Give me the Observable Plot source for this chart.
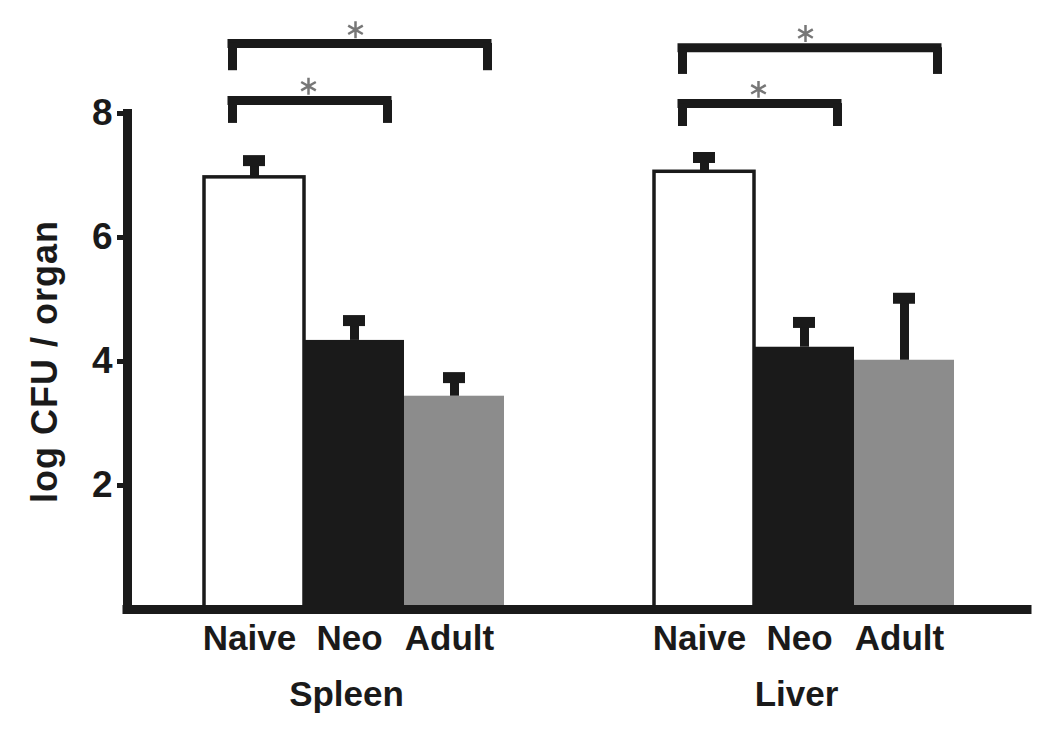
<!DOCTYPE html>
<html><head><meta charset="utf-8">
<script src="https://cdn.jsdelivr.net/npm/d3@7"></script>
<script src="https://cdn.jsdelivr.net/npm/@observablehq/plot@0.6"></script>
<style>
body{margin:0;background:#fff;}
#chart svg{font-family:"Liberation Sans",Arial,sans-serif;color:#1a1a1a;background:#fff;}
</style></head><body><div id="chart"></div>
<script>
const organs = ["Spleen", "Liver"];
const groups = ["Naive", "Neo", "Adult"];
const groupColors = ["#ffffff", "#1a1a1a", "#8c8c8c"];
const spleenMeans = [6.97, 4.34, 3.44];
const spleenSem = [0.27, 0.32, 0.30];
const liverMeans = [7.06, 4.23, 4.02];
const liverSem = [0.23, 0.40, 1.00];
const yTicks = [2, 4, 6, 8];
const yLabel = "log CFU / organ";
const pairFrom = ["Naive", "Naive"];
const pairTo = ["Adult", "Neo"];
const spleenBarLevel = [9.13, 8.21];
const spleenLegEnd = [8.69, 7.84];
const spleenStar = [9.35, 8.44];
const liverBarLevel = [9.06, 8.16];
const liverLegEnd = [8.63, 7.79];
const liverStar = [9.29, 8.39];

const data = [];
groups.forEach((g, i) => data.push({organ: "Spleen", group: g, mean: spleenMeans[i], top: spleenMeans[i] + spleenSem[i]}));
groups.forEach((g, i) => data.push({organ: "Liver", group: g, mean: liverMeans[i], top: liverMeans[i] + liverSem[i]}));

const brackets = [];
pairFrom.forEach((f, i) => {
  brackets.push({organ: "Spleen", from: f, to: pairTo[i], level: spleenBarLevel[i], leg: spleenLegEnd[i], star: spleenStar[i], idx: i});
  brackets.push({organ: "Liver", from: f, to: pairTo[i], level: liverBarLevel[i], leg: liverLegEnd[i], star: liverStar[i], idx: i});
});

const ink = "#1a1a1a";
const chart = Plot.plot({
  width: 1050, height: 740,
  marginLeft: 127, marginRight: 23, marginTop: 113, marginBottom: 131,
  fx: {domain: organs, padding: 0, label: null, axis: null},
  x: {domain: groups, paddingInner: 0, paddingOuter: 0.75, align: 0.51, axis: null, label: null},
  y: {domain: [0, 8], axis: null, label: null},
  color: {domain: groups, range: groupColors},
  marks: [
    Plot.barY(data, {fx: "organ", x: "group", y: "mean", fill: "group"}),
    Plot.barY(data.filter(d => d.group === "Naive"), {fx: "organ", x: "group", y: "mean", fill: "white", stroke: ink, strokeWidth: 3.5}),
    Plot.ruleX(data, {fx: "organ", x: "group", y1: "mean", y2: "top", stroke: ink, strokeWidth: 9}),
    Plot.tickY(data, {fx: "organ", x: "group", y: "top", stroke: ink, strokeWidth: 11, insetLeft: 39, insetRight: 39}),
    Plot.ruleY([0], {stroke: ink, strokeWidth: 9, strokeLinecap: "square"}),
    Plot.frame({anchor: "left", facetAnchor: "left", stroke: ink, strokeWidth: 9}),
    Plot.axisY({ticks: yTicks, tickSize: 10, tickPadding: 5, fontSize: 37, fontWeight: "bold", strokeWidth: 5, label: null, tickFormat: d => d}),
    Plot.axisX({tickSize: 0, tickPadding: 16, fontSize: 35, fontWeight: "bold", label: null, dx: -5}),
    Plot.axisFx({anchor: "bottom", tickSize: 0, tickPadding: 72, fontSize: 35, fontWeight: "bold", label: null, dx: -6}),
    Plot.text([{organ: "Spleen", label: yLabel}], {fx: "organ", text: "label", frameAnchor: "left", textAnchor: "middle", rotate: -90, dx: -82, fontSize: 36, fontWeight: "bold", fill: ink, className: "ylab"}),
    Plot.ruleY(brackets, {fx: "organ", x1: "from", x2: "to", y: "level", stroke: ink, strokeWidth: 9, insetLeft: 23.5, insetRight: 12.5}),
    Plot.ruleX(brackets, {fx: "organ", x: "from", y1: "level", y2: "leg", stroke: ink, strokeWidth: 9, dx: -22}),
    Plot.ruleX(brackets, {fx: "organ", x: "to", y1: "level", y2: "leg", stroke: ink, strokeWidth: 9, dx: 33}),
    Plot.dot(brackets.filter(d => d.idx === 0), {fx: "organ", x: "to", y: "star", symbol: "asterisk", r: 8, stroke: "#777", strokeWidth: 2.5, dx: -99}),
    Plot.dot(brackets.filter(d => d.idx === 1), {fx: "organ", x: "to", y: "star", symbol: "asterisk", r: 8, stroke: "#777", strokeWidth: 2.5, dx: -46})
  ]
});
d3.select(chart).selectAll(".ylab text").style("letter-spacing", "1px");
document.getElementById("chart").appendChild(chart);
</script></body></html>
